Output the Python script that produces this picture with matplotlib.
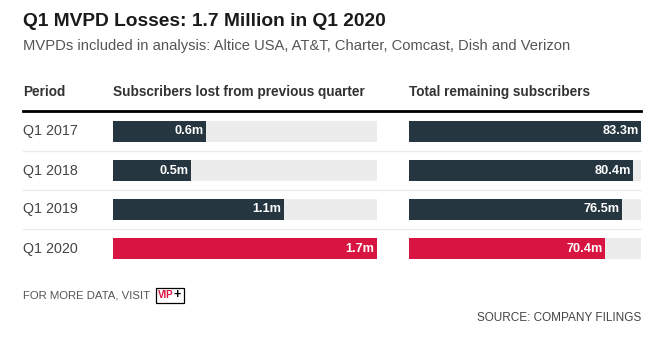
import matplotlib
matplotlib.use('Agg')
import matplotlib.pyplot as plt
from matplotlib.patches import Rectangle
from matplotlib.lines import Line2D

plt.rcParams['font.family'] = ['Liberation Sans', 'DejaVu Sans']

periods = ['Q1 2017', 'Q1 2018', 'Q1 2019', 'Q1 2020']
lost = [0.6, 0.5, 1.1, 1.7]
remaining = [83.3, 80.4, 76.5, 70.4]
highlight = 'Q1 2020'

DARK = '#253640'
RED = '#d81440'
TRACK = '#ececec'

W, H = 659, 340
fig = plt.figure(figsize=(W / 100, H / 100), dpi=100)


def fx(px):
    return px / W


def fy(py):
    return 1 - py / H


fig.text(fx(23), fy(22), 'Q1 MVPD Losses: 1.7 Million in Q1 2020', fontsize=13.8,
         fontweight='bold', color='#1a1a1a', va='center')
fig.text(fx(23), fy(46), 'MVPDs included in analysis: Altice USA, AT&T, Charter, Comcast, Dish and Verizon',
         fontsize=10.6, color='#555555', va='center')
fig.text(fx(23), fy(92), 'Period', fontsize=9.8, fontweight='bold', color='#333333', va='center')
fig.text(fx(113), fy(92), 'Subscribers lost from previous quarter', fontsize=9.8,
         fontweight='bold', color='#333333', va='center')
fig.text(fx(409), fy(92), 'Total remaining subscribers', fontsize=9.8,
         fontweight='bold', color='#333333', va='center')

fig.add_artist(Line2D([fx(23), fx(641)], [fy(111), fy(111)], color='black', lw=2))

top, row_h = 112, 39
n = len(periods)
for i in range(1, n):
    yy = top + row_h * i
    fig.add_artist(Line2D([fx(23), fx(641)], [fy(yy), fy(yy)], color='#ebebeb', lw=1))


def make_axes(x0, x1):
    ax = fig.add_axes([fx(x0), fy(top + row_h * n), fx(x1) - fx(x0), (row_h * n) / H])
    ax.set_ylim(n - 0.5, -0.5)
    ax.axis('off')
    return ax


ax1 = make_axes(113, 377)
ax2 = make_axes(409, 641)

for ax, vals in [(ax1, lost), (ax2, remaining)]:
    vmax = max(vals)
    ax.set_xlim(0, vmax)
    colors = [RED if p == highlight else DARK for p in periods]
    ax.barh(range(n), [vmax] * n, height=0.52, color=TRACK)
    ax.barh(range(n), vals, height=0.52, color=colors)
    for i, v in enumerate(vals):
        ax.text(v - vmax * 0.01, i, f'{v:.1f}m', color='white', fontsize=9.2,
                fontweight='bold', ha='right', va='center')

for i, p in enumerate(periods):
    fig.text(fx(23), fy(top + row_h * (i + 0.5)), p, fontsize=10.3, color='#444444', va='center')

fig.text(fx(23), fy(296), 'FOR MORE DATA, VISIT', fontsize=8.2, color='#555555', va='center')
fig.text(fx(157.5), fy(295.5), 'VIP', fontsize=7, color=RED, fontweight='bold', va='center')
fig.text(fx(174), fy(295), '+', fontsize=9, color='black', fontweight='bold', va='center')
fig.add_artist(Rectangle((fx(155.5), fy(303)), fx(184) - fx(155.5), (303 - 288) / H,
                         fill=False, edgecolor='black', lw=0.9))
fig.text(fx(641), fy(318), 'SOURCE: COMPANY FILINGS', fontsize=8.5, color='#444444',
         ha='right', va='center')

fig.savefig('out.png', dpi=100)
